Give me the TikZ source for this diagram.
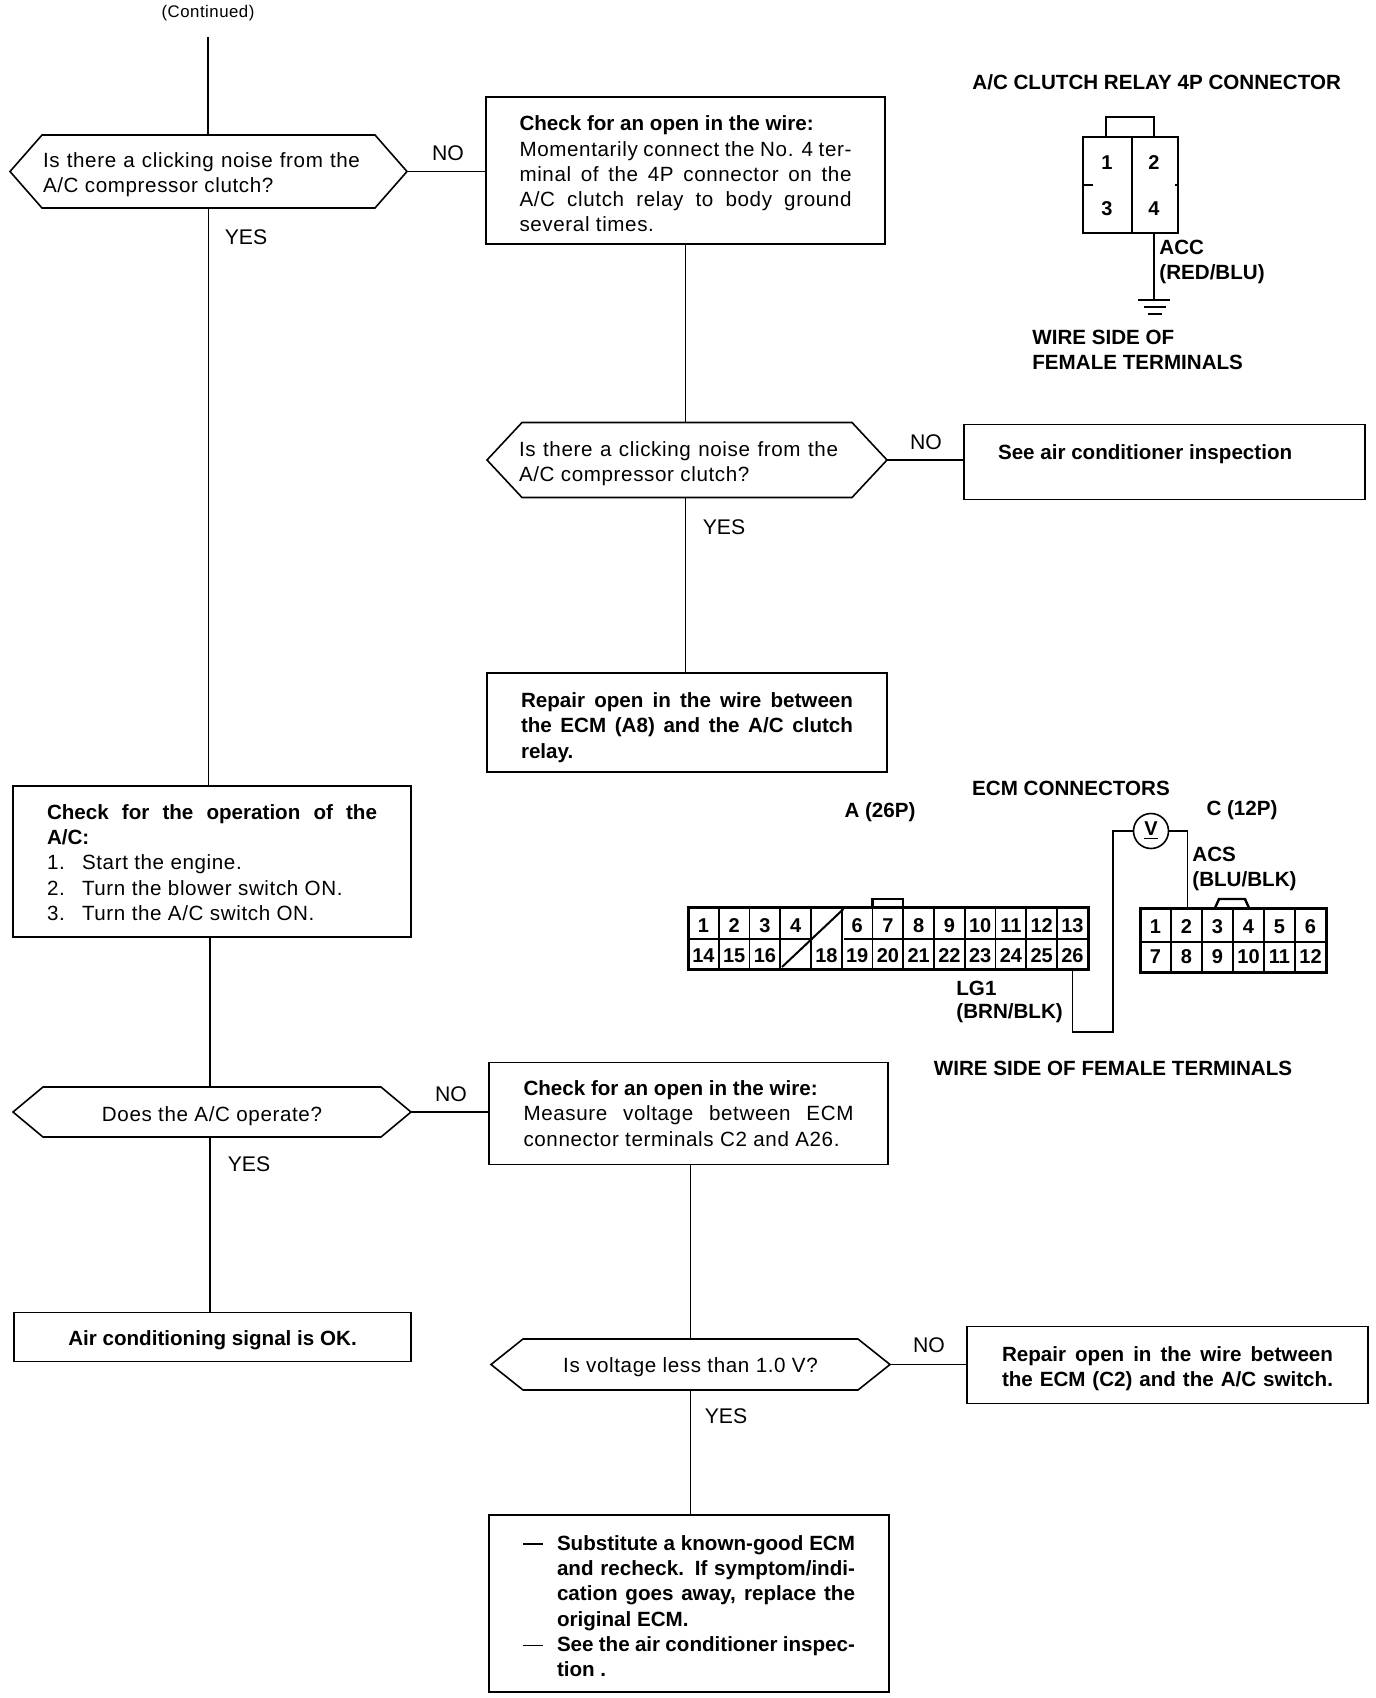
\documentclass[tikz,border=0pt]{standalone}
\usepackage{fontspec}
\setmainfont{Liberation Sans}
\newfontfamily\spfont[LetterSpace=3]{Liberation Sans}
\usetikzlibrary{calc}
\newdimen\px \px=0.5pt
\newcommand{\bt}[4]{\raisebox{#2\px}[\height][\depth]{\makebox[0pt][c]{\hspace*{#1\px}\parbox{#3\px}{#4}}}}
\newcommand{\jl}[1]{\makebox[\linewidth][s]{#1}\par}
\newcommand{\pl}[1]{\mbox{#1}\par}
\newcommand{\bd}{\rmfamily\bfseries}
\newcommand{\hexdraw}[2]{\draw[line width=0.8pt] (#1.west) -- ([xshift=#2\px]#1.north west) -- ([xshift=-#2\px]#1.north east) -- (#1.east) -- ([xshift=-#2\px]#1.south east) -- ([xshift=#2\px]#1.south west) -- cycle;}
\tikzset{
  body/.style={font=\fontsize{10.3}{12.65}\selectfont\spfont},
  labl/.style={font=\fontsize{10.6}{12.65}\selectfont,inner sep=0pt},
  head/.style={font=\fontsize{10.3}{12.65}\selectfont\bfseries,inner sep=0pt,anchor=west},
  pbox/.style={draw,line width=0.9pt,rectangle,inner sep=0pt,outer sep=0pt,body},
  hexa/.style={rectangle,inner sep=0pt,outer sep=0pt,body},
  wire/.style={line width=0.8pt},
  cell/.style={inner sep=0pt,font=\fontsize{10}{12}\selectfont\bfseries,minimum width=30.75\px,minimum height=31\px,outer sep=0pt},
  conn/.style={draw,line width=1.5pt,rectangle,inner sep=0pt,outer sep=0pt},
}
\begin{document}
\begin{tikzpicture}[x=0.5pt,y=-0.5pt]
\useasboundingbox (0,0) rectangle (1376,1698);

% ---------- flow nodes
\node[inner sep=0pt,font=\fontsize{8.4}{10}\selectfont\spfont] (cont) at (208,13) {(Continued)};
\coordinate (top) at (208,37);
\node[hexa,minimum width=397\px,minimum height=73\px] (d1) at (208.5,171.5)
  {\bt{-7}{-3}{324}{\makebox[317\px][s]{Is there a clicking noise from the}\par\pl{A/C compressor clutch?}}};
\hexdraw{d1}{32}
\node[pbox,minimum width=399\px,minimum height=147\px] (b1) at (685.5,170.5)
  {\bt{0}{-3.5}{332}{\pl{\bd Check for an open in the wire:}\jl{Momentarily connect the No. 4 ter-}\jl{minal of the 4P connector on the}\jl{A/C clutch relay to body ground}\pl{several times.}}};
\node[hexa,minimum width=400\px,minimum height=75\px] (d2) at (687,460)
  {\bt{-16}{-4}{320}{\makebox[319\px][s]{Is there a clicking noise from the}\par\pl{A/C compressor clutch?}}};
\hexdraw{d2}{35}
\node[pbox,minimum width=401\px,minimum height=75\px] (b2) at (1164.5,462)
  {\bt{-3}{8}{330}{\pl{\bd See air conditioner inspection}}};
\node[pbox,minimum width=400\px,minimum height=99\px] (b3) at (687,722.5)
  {\bt{0}{-5}{332}{\bd\jl{Repair open in the wire between}\jl{the ECM (A8) and the A/C clutch}\pl{relay.}}};
\node[pbox,minimum width=398\px,minimum height=151\px] (b4) at (212,861.5)
  {\bt{0}{-1}{330}{\bd\jl{Check for the operation of the}\pl{A/C:}\mdseries\spfont
    \pl{\makebox[35\px][l]{1.}Start the engine.}\pl{\makebox[35\px][l]{2.}Turn the blower switch ON.}\pl{\makebox[35\px][l]{3.}Turn the A/C switch ON.}}};
\node[hexa,minimum width=398\px,minimum height=50\px] (d3) at (212,1112)
  {\bt{0}{-4}{330}{\centering Does the A/C operate?\par}};
\hexdraw{d3}{30}
\node[pbox,minimum width=397\px,minimum height=49\px] (b5) at (212.5,1337)
  {\bt{0}{-3.5}{360}{\centering\bd Air conditioning signal is OK.\par}};
\node[pbox,minimum width=399\px,minimum height=102\px] (b6) at (688.5,1113.5)
  {\bt{0}{0}{330}{\pl{\bd Check for an open in the wire:}\jl{Measure voltage between ECM}\pl{connector terminals C2 and A26.}}};
\node[hexa,minimum width=399\px,minimum height=51\px] (d4) at (690.5,1364.5)
  {\bt{0}{-3}{330}{\centering Is voltage less than 1.0 V?\par}};
\hexdraw{d4}{32}
\node[pbox,minimum width=401\px,minimum height=77\px] (b7) at (1167.5,1365)
  {\bt{0}{-4}{331}{\bd\jl{Repair open in the wire between}\jl{the ECM (C2) and the A/C switch.}}};
\node[pbox,minimum width=400\px,minimum height=177\px] (b8) at (689,1603.5)
  {\bt{0}{-2.5}{332}{\bd
    \makebox[34\px][l]{\rule[0.25em]{20\px}{1pt}}\makebox[298\px][s]{Substitute a known-good ECM}\par
    \hspace*{34\px}\makebox[298\px][s]{and recheck. If symptom/indi-}\par
    \hspace*{34\px}\makebox[298\px][s]{cation goes away, replace the}\par
    \hspace*{34\px}original ECM.\par
    \makebox[34\px][l]{\rule[0.25em]{20\px}{0.7pt}}\makebox[298\px][s]{See the air conditioner inspec-}\par
    \hspace*{34\px}tion .\par}};

% ---------- connectors
\coordinate (lx) at (210,0);
\draw[wire] (top) -- (d1.north -| top);
\draw[wire] (d1.east) -- (b1.west |- d1.east);
\draw[wire] (d1.south) -- (d1.south |- b4.north);
\draw[wire] (b1.south) -- (b1.south |- d2.north);
\draw[wire] (d2.east) -- (b2.west |- d2.east);
\draw[wire] (b1.south |- d2.south) -- (b1.south |- b3.north);
\draw[wire] (b4.south -| lx) -- (d3.north -| lx);
\draw[wire] (d3.east) -- (b6.west |- d3.east);
\draw[wire] (d3.south -| lx) -- (b5.north -| lx);
\draw[wire] (b6.south -| d4.north) -- (d4.north);
\draw[wire] (d4.east) -- (b7.west |- d4.east);
\draw[wire] (d4.south) -- (d4.south |- b8.north);

% ---------- NO / YES
\node[labl] (no1) at (448,153) {NO};
\node[labl] (ye1) at (246,237) {YES};
\node[labl] (no2) at (926,442) {NO};
\node[labl] (ye2) at (724,527) {YES};
\node[labl] (no3) at (451,1094) {NO};
\node[labl] (ye3) at (249,1164) {YES};
\node[labl] (no4) at (929,1345) {NO};
\node[labl] (ye4) at (726,1416) {YES};

% ---------- relay connector
\node[head] (rt) at (972,82) {A/C CLUTCH RELAY 4P CONNECTOR};
\node[conn,line width=1.1pt,minimum width=95\px,minimum height=96\px] (rb) at (1130.5,185) {};
\draw[line width=1.1pt] (1106,137) -- (1106,117) -- (1154,117) -- (1154,137);
\coordinate (rm) at (1132,185);
\draw[line width=0.6pt] (rb.north -| rm) -- (rb.south -| rm);
\draw[line width=0.6pt] (rb.west) -- ++(10,0);
\draw[line width=0.6pt] (rb.east) -- ++(-3,0);
\node[cell] (r1) at (1107,163) {1};
\node[cell] (r2) at (1154,163) {2};
\node[cell] (r3) at (1107,209) {3};
\node[cell] (r4) at (1154,209) {4};
\coordinate (gnd) at (1154,300);
\draw[wire] (rb.south -| gnd) -- (gnd);
\draw[line width=0.9pt] ($(gnd)+(-16,0)$) -- ($(gnd)+(16,0)$);
\draw[line width=0.9pt] ($(gnd)+(-10,7)$) -- ($(gnd)+(12,7)$);
\draw[line width=0.9pt] ($(gnd)+(-6,14)$) -- ($(gnd)+(8,14)$);
\node[head] (racc) at (1159,247) {ACC};
\node[head] (rcol) at (1159,274) {(RED/BLU)};
\node[head] (rw1) at (1032,337) {WIRE SIDE OF};
\node[head] (rw2) at (1032,362) {FEMALE TERMINALS};

% ---------- ECM connectors
\node[head,anchor=center] (et) at (1071,788) {ECM CONNECTORS};
\node[head,anchor=center] (ea) at (880,812) {A (26P)};
\node[head,anchor=center] (ec) at (1242,810) {C (12P)};
\node[head] (acs) at (1192,854) {ACS};
\node[head] (acsc) at (1192,881) {(BLU/BLK)};
\node[head] (lg) at (956,988) {LG1};
\node[head] (lgc) at (956,1013) {(BRN/BLK)};
\node[head,anchor=center] (ew) at (1113,1068) {WIRE SIDE OF FEMALE TERMINALS};

% 26P
\node[conn,minimum width=400\px,minimum height=62\px] (A) at (888,938) {};
\foreach \n [count=\i from 0] in {1,2,3,4,,6,7,8,9,10,11,12,13}
  \node[cell] (a\i) at ({688+30.75*(\i+0.5)},926) {\n};
\foreach \n [count=\i from 0] in {14,15,16,,18,19,20,21,22,23,24,25,26}
  \node[cell] (b\i) at ({688+30.75*(\i+0.5)},955.5) {\n};
\foreach \i in {1,2,3,6,7,8,9,10,11,12}
  \draw[line width=0.8pt] ({688+30.75*\i},907) -- ({688+30.75*\i},969);
\draw[line width=0.8pt] ({688+30.75*3},907) -- ({688+30.75*3},939);
\draw[line width=1pt] ({688+30.75*4},907) -- ({688+30.75*4},969);
\draw[line width=0.8pt] ({688+30.75*5},907) -- ({688+30.75*5},969);
\draw[line width=0.8pt] (688,939) -- (813,939) (843.5,939) -- (1088,939);
\draw[line width=1pt] (843.5,909) -- (782,967);
\draw[line width=1.2pt] ({688+30.75*6},907) -- ({688+30.75*6},899) -- ({688+30.75*7},899) -- ({688+30.75*7},907);

% 12P
\node[conn,minimum width=186\px,minimum height=64\px] (C) at (1233,940) {};
\foreach \n [count=\i from 0] in {1,2,3,4,5,6}
  \node[cell,minimum width=31\px] (c\n) at ({1140+31*(\i+0.5)},927) {\n};
\foreach \n [count=\i from 0] in {7,8,9,10,11,12}
  \node[cell,minimum width=31\px] (c\n) at ({1140+31*(\i+0.5)},957) {\n};
\foreach \i in {1,...,5}
  \draw[line width=0.8pt] ({1140+31*\i},908) -- ({1140+31*\i},972);
\draw[line width=0.8pt] (1140,942) -- (1326,942);
\draw[line width=1.2pt] (1215,908) -- (1219,899) -- (1245,899) -- (1249,908);

% voltmeter
\node[draw,circle,line width=0.8pt,minimum size=35\px,inner sep=0pt,font=\fontsize{10}{12}\selectfont\bfseries] (v) at (1151,831) {\underline{V}};
\coordinate (wb) at (1113,1032);
\coordinate (wr) at (1187.5,0);
\draw[wire] (b12.south) -- (b12.south |- wb) -- (wb) -- (wb |- v.west) -- (v.west);
\draw[wire] (v.east) -- (wr |- v.east) -- (wr |- C.north);
\end{tikzpicture}
\end{document}
